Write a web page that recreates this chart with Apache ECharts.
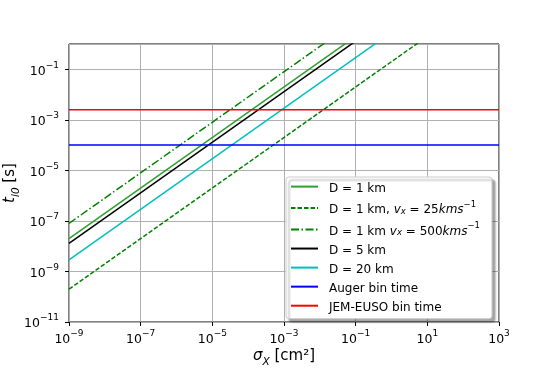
<!DOCTYPE html>
<html>
<head>
<meta charset="utf-8">
<script src="https://cdn.jsdelivr.net/npm/echarts@6/dist/echarts.min.js"></script>
<style>
  html, body { margin: 0; padding: 0; background: #fff; }
  #chart { width: 554px; height: 369px; }
</style>
</head>
<body>
<div id="chart"></div>
<script>
// cross section sigma_X [cm^2], ends of the plotted range
const sigma = [1e-9, 1e3];

// t_l0 [s] at each sigma end
const tD1 = [2e-8, 2e4];
const tD1v25 = [2e-10, 2e2];
const tD1v500 = [8e-8, 8e4];
const tD5 = [1.3e-8, 1.3e4];
const tD20 = [2.9e-9, 2.9e3];
const tAuger = [1e-4, 1e-4];
const tJemEuso = [2.5e-3, 2.5e-3];

const FONT = "DejaVu Sans";

function pairs(ys) {
  return sigma.map((x, i) => [x, ys[i]]);
}

function expLabel(v) {
  const e = Math.round(Math.log10(v));
  return "{b|10}{s|" + String(e).replace("-", "\u2212") + "}";
}

const tickRich = {
  b: { fontFamily: FONT, fontSize: 12.5, color: "#000", lineHeight: 17, verticalAlign: "bottom" },
  s: { fontFamily: FONT, fontSize: 9, color: "#000", lineHeight: 11, verticalAlign: "top" },
};

const nameRich = {
  i: { fontFamily: FONT, fontSize: 15, fontStyle: "italic", color: "#000", lineHeight: 19, verticalAlign: "top" },
  sub: { fontFamily: FONT, fontSize: 10.5, fontStyle: "italic", color: "#000", lineHeight: 12, verticalAlign: "bottom" },
  n: { fontFamily: FONT, fontSize: 15, color: "#000", lineHeight: 19, verticalAlign: "top" },
};

function lineSeries(name, ys, color, type) {
  return {
    name: name,
    type: "line",
    data: pairs(ys),
    symbol: "none",
    showSymbol: false,
    clip: true,
    silent: true,
    animation: false,
    lineStyle: { color: color, width: 1.5, type: type || "solid" },
    itemStyle: { color: color },
  };
}

const chart = echarts.init(document.getElementById("chart"), null, { renderer: "canvas" });

chart.setOption({
  animation: false,
  backgroundColor: "#fff",
  grid: {
    left: 69, right: 55, top: 44, bottom: 47,
    outerBoundsMode: "none",
    containLabel: false,
    show: true, borderColor: "#000", borderWidth: 1,
  },
  xAxis: {
    type: "log",
    logBase: 10,
    min: 1e-9,
    max: 1e3,
    interval: 2,
    name: "{i|\u03c3}{sub|X}{n| [cm\u00b2]}",
    nameLocation: "middle",
    nameMoveOverlap: false,
    nameGap: 27,
    nameTextStyle: { rich: nameRich },
    axisLine: { show: false },
    axisTick: { show: true, inside: false, length: 4, lineStyle: { color: "#000", width: 1 } },
    minorTick: { show: false },
    axisLabel: { margin: 7, formatter: expLabel, rich: tickRich },
    splitLine: { show: true, lineStyle: { color: "#b0b0b0", width: 1 } },
  },
  yAxis: {
    type: "log",
    logBase: 10,
    min: 1e-11,
    max: 1,
    interval: 2,
    name: "{i|t}{sub|l0}{n| [s]}",
    nameLocation: "middle",
    nameRotate: 90,
    nameMoveOverlap: false,
    nameGap: 47,
    nameTextStyle: { rich: nameRich },
    axisLine: { show: false },
    axisTick: { show: true, inside: false, length: 4, lineStyle: { color: "#000", width: 1 } },
    minorTick: { show: false },
    axisLabel: { margin: 10, showMaxLabel: false, formatter: expLabel, rich: tickRich },
    splitLine: { show: true, lineStyle: { color: "#b0b0b0", width: 1 } },
  },
  legend: {
    orient: "vertical",
    left: 286,
    top: 177,
    padding: [4, 12, 5, 4],
    itemWidth: 27,
    itemHeight: 14,
    itemGap: 5.45,
    backgroundColor: "#fff",
    borderColor: "#cccccc",
    borderWidth: 1,
    borderRadius: 3,
    shadowColor: "rgba(0,0,0,0.35)",
    shadowBlur: 2,
    shadowOffsetX: 3,
    shadowOffsetY: 3,
    selectedMode: false,
    itemStyle: { opacity: 0 },
    textStyle: {
      fontFamily: FONT,
      fontSize: 12,
      color: "#000",
      padding: [0, 0, 0, 6],
      rich: {
        n: { fontFamily: FONT, fontSize: 12, color: "#000", lineHeight: 16, verticalAlign: "bottom" },
        i: { fontFamily: FONT, fontSize: 12, fontStyle: "italic", color: "#000", lineHeight: 16, verticalAlign: "bottom" },
        sub: { fontFamily: FONT, fontSize: 8.5, fontStyle: "italic", color: "#000", lineHeight: 10, verticalAlign: "bottom" },
        sup: { fontFamily: FONT, fontSize: 8.5, color: "#000", lineHeight: 10, verticalAlign: "top" },
      },
    },
    formatter: function (name) {
      if (name === "D1v25") return "{n|D = 1 km, }{i|v}{sub|x}{n| = 25}{i|kms}{sup|\u22121}";
      if (name === "D1v500") return "{n|D = 1 km }{i|v}{sub|x}{n| = 500}{i|kms}{sup|\u22121}";
      return "{n|" + name + "}";
    },
    data: ["D = 1 km", "D1v25", "D1v500", "D = 5 km", "D = 20 km", "Auger bin time", "JEM-EUSO bin time"],
  },
  series: [
    lineSeries("D = 1 km", tD1, "#2ca02c"),
    lineSeries("D1v25", tD1v25, "#008000", [4.5, 2]),
    lineSeries("D1v500", tD1v500, "#008000", [8, 2.5, 1.5, 2.5]),
    lineSeries("D = 5 km", tD5, "#000000"),
    lineSeries("D = 20 km", tD20, "#00bfbf"),
    lineSeries("Auger bin time", tAuger, "#0000ff"),
    lineSeries("JEM-EUSO bin time", tJemEuso, "#ff0000"),
  ],
});
</script>
</body>
</html>
